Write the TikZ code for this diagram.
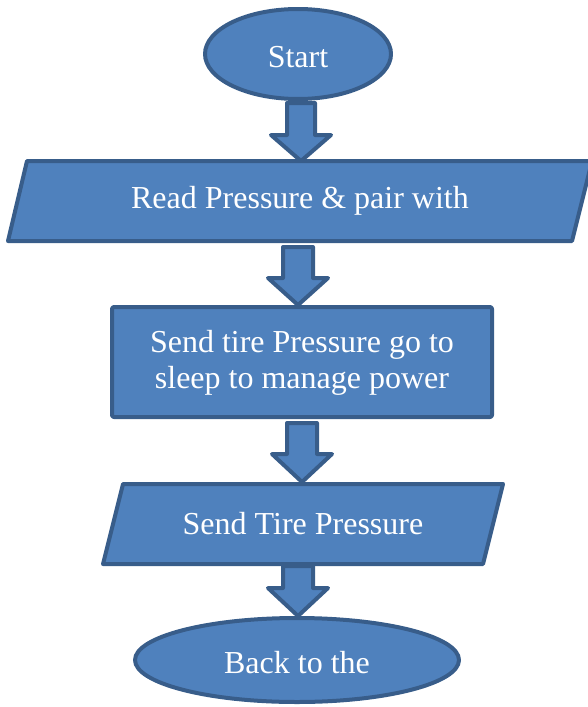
\documentclass[tikz,border=0pt]{standalone}
\usepackage{fontspec}
\setmainfont{Liberation Serif}
\usetikzlibrary{shapes.geometric}
\definecolor{boxfill}{HTML}{4F81BD}
\definecolor{boxline}{HTML}{385D8A}
\tikzset{
  shapestyle/.style={fill=boxfill, draw=boxline, line width=4pt, line join=round},
  label/.style={text=white, font=\fontsize{32}{36.5}\selectfont, align=center, inner sep=0pt},
}
\newcommand{\blockarrow}[6]{% cx, shaft half, head half, top, joint, tip
  \draw[shapestyle] (#1-#2,#4) -- (#1+#2,#4) -- (#1+#2,#5) -- (#1+#3,#5) -- (#1,#6)
    -- (#1-#3,#5) -- (#1-#2,#5) -- cycle;}
\begin{document}
\begin{tikzpicture}[x=1pt,y=-1pt]
\useasboundingbox (0,0) rectangle (587,707);
% start
\draw[shapestyle] (298,54) ellipse [x radius=93, y radius=45];
\node[label] (start) at (298,57) {Start};
% arrow 1
\blockarrow{301}{14}{30}{103}{135}{161}
% read
\draw[shapestyle] (27,161) -- (592,161) -- (572,241) -- (8,241) -- cycle;
\node[label] (read) at (300,201) {Read Pressure \& pair with};
% arrow 2
\blockarrow{298}{15}{30}{247}{278}{305}
% send sleep
\draw[shapestyle, rounded corners=2pt] (112,307) rectangle (492,417);
\node[label] (sleep) at (302,363) {Send tire Pressure go to\\sleep to manage power};
% arrow 3
\blockarrow{302}{15}{30}{423}{454}{482}
% send tire
\draw[shapestyle] (123,484) -- (503,484) -- (483,564) -- (103,564) -- cycle;
\node[label] (send) at (303,524) {Send Tire Pressure};
% arrow 4
\blockarrow{298}{15}{30}{566}{588}{616}
% back
\draw[shapestyle] (297,660) ellipse [x radius=162, y radius=42];
\node[label] (back) at (297,663) {Back to the};
\end{tikzpicture}
\end{document}
